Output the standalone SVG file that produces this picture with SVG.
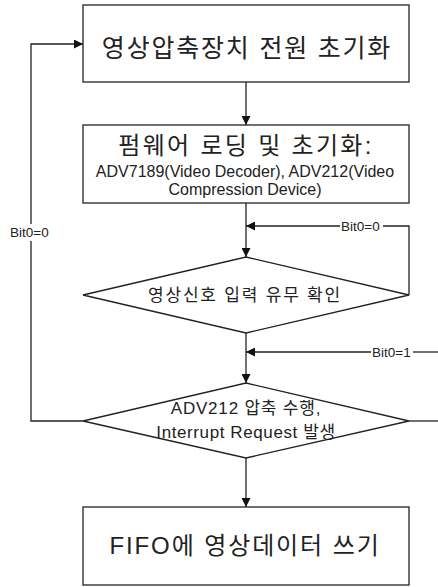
<svg xmlns="http://www.w3.org/2000/svg" width="438" height="587" viewBox="0 0 438 587">
<defs>
<style>
.box{fill:#fff;stroke:#222;stroke-width:1.3}
.ln{fill:none;stroke:#222;stroke-width:1.3}
.t{font-family:"Liberation Sans","Noto Sans CJK KR",sans-serif;fill:#222;text-anchor:middle}
.lbl{font-family:"Liberation Sans",sans-serif;font-size:13.5px;fill:#222}
</style>
<marker id="ah" viewBox="0 0 10 10" refX="10" refY="5" markerWidth="9" markerHeight="9" markerUnits="userSpaceOnUse" orient="auto">
<path d="M0,0 L10,5 L0,10 z" fill="#111"/>
</marker>
</defs>
<rect width="438" height="587" fill="#fff"/>
<g id="connectors">
<line class="ln" x1="246" y1="82" x2="246" y2="125" marker-end="url(#ah)"/>
<line class="ln" x1="246" y1="203" x2="246" y2="257" marker-end="url(#ah)"/>
<polyline class="ln" points="409,295 409,226 383,226"/>
<line class="ln" x1="340" y1="226" x2="246" y2="226" marker-end="url(#ah)"/>
<line class="ln" x1="246" y1="333" x2="246" y2="383" marker-end="url(#ah)"/>
<line class="ln" x1="438" y1="352" x2="413" y2="352"/>
<line class="ln" x1="371" y1="352" x2="246" y2="352" marker-end="url(#ah)"/>
<line class="ln" x1="409" y1="421" x2="438" y2="421"/>
<polyline class="ln" points="83,421 31,421 31,241"/>
<polyline class="ln" points="31,224 31,44 83,44" marker-end="url(#ah)"/>
<line class="ln" x1="246" y1="458" x2="246" y2="507" marker-end="url(#ah)"/>
<text class="lbl" x="10" y="237">Bit0=0</text>
<text class="lbl" x="341" y="231">Bit0=0</text>
<text class="lbl" x="372" y="357">Bit0=1</text>
</g>
<g id="n1">
<rect class="box" x="83" y="5" width="326" height="77"/>
<text class="t" x="247" y="57" font-size="25" letter-spacing="1.8">영상압축장치 전원 초기화</text>
</g>
<g id="n2">
<rect class="box" x="83" y="125" width="326" height="78"/>
<text class="t" x="246" y="154" font-size="24" letter-spacing="2.3">펌웨어 로딩 및 초기화:</text>
<text class="t" x="245" y="177" font-size="16">ADV7189(Video Decoder), ADV212(Video</text>
<text class="t" x="245" y="195" font-size="16">Compression Device)</text>
</g>
<g id="n3">
<polygon class="box" points="246,257 409,295 246,333 83,295"/>
<text class="t" x="245" y="301" font-size="17" fill="#333" letter-spacing="1.8">영상신호 입력 유무 확인</text>
</g>
<g id="n4">
<polygon class="box" points="246,383 409,421 246,458 83,421"/>
<text class="t" x="246" y="414" font-size="17" letter-spacing="0.8">ADV212 압축 수행,</text>
<text class="t" x="246" y="438" font-size="17" letter-spacing="0.6">Interrupt Request 발생</text>
</g>
<g id="n5">
<rect class="box" x="83" y="507" width="326" height="78"/>
<text class="t" x="245" y="554" font-size="24" letter-spacing="1.9">FIFO에 영상데이터 쓰기</text>
</g>
</svg>
